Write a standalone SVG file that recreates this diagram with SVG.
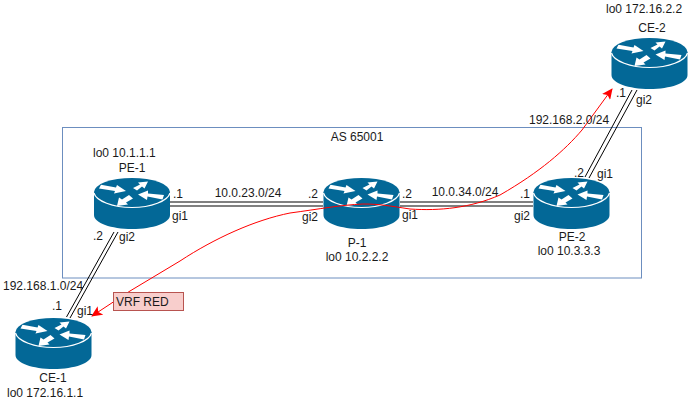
<svg xmlns="http://www.w3.org/2000/svg" xmlns:xlink="http://www.w3.org/1999/xlink" width="695" height="404" viewBox="0 0 695 404">
<style>
text{font-family:"Liberation Sans",Arial,sans-serif;font-size:12px;fill:#1a1a1a}
.m{text-anchor:middle}
.l{fill:none;stroke:#000;stroke-width:1}
.h{fill:none;stroke:#808080;stroke-width:2}
.r{fill:none;stroke:#f00;stroke-width:1}
</style>
<defs>
<marker id="ah" markerWidth="12" markerHeight="10" refX="10" refY="5" orient="auto-start-reverse" markerUnits="userSpaceOnUse"><path d="M0 0L11 5L0 10L2.500 5Z" fill="#f00"/></marker>
<g id="router">
<path d="M0 14V37C0 45 17 51 38 51S76 45 76 37V14Z" fill="#036897"/>
<ellipse cx="38" cy="14" rx="38" ry="14" fill="#036897"/>
<path d="M0 15C2 23 19 29.500 38 29.500S74 23 76 15" fill="none" stroke="#fff" stroke-width="1.200"/>
<path d="M7 6.700L22 9.500L23 7L32 13L20 15.500L21 13L5 10.500Z" fill="#fff"/>
<path d="M39 10L46 6.500L44 4.500L54 3.500L50.500 10.500L48 8.500L43 12.500Z" fill="#fff"/>
<path d="M44 16.500L54 12.500L54 15.500L70 17L68.500 21.500L53.500 18.500L53 22Z" fill="#fff"/>
<path d="M23 28L25 19.500L28 21.500L35 17L39 20.500L32 24.500L34 26.500Z" fill="#fff"/>
</g>
</defs>
<rect width="695" height="404" fill="#fff"/>
<g id="as-65001"><rect x="62.500" y="127.500" width="579" height="150.500" fill="none" stroke="#6c8ebf"/><text class="m" x="357" y="141">AS 65001</text></g>
<g id="connectors">
<path class="h" d="M170 202H323M170 206H323"/>
<path class="h" d="M400 202H533M400 206H533"/>
<path class="l" d="M114 232L66.500 317M118 232L70 318"/>
<path class="l" d="M585 177L632 90M589 178L637 90"/>
</g>
<g id="PE-1"><use href="#router" x="94" y="178"/><text x="93" y="157">lo0 10.1.1.1</text><text class="m" x="132" y="172">PE-1</text></g>
<g id="P-1"><use href="#router" x="323.500" y="178"/><text class="m" x="357" y="247">P-1</text><text class="m" x="357" y="261">lo0 10.2.2.2</text></g>
<g id="PE-2"><use href="#router" x="533.500" y="178"/><text class="m" x="572" y="241">PE-2</text><text class="m" x="569" y="255">lo0 10.3.3.3</text></g>
<g id="CE-1"><use href="#router" x="15.500" y="318"/><text class="m" x="53" y="382">CE-1</text><text x="7" y="397">lo0 172.16.1.1</text></g>
<g id="CE-2"><use href="#router" x="611.500" y="38"/><text x="606" y="13">lo0 172.16.2.2</text><text class="m" x="652" y="32">CE-2</text></g>
<g id="vrf-path">
<path class="r" marker-start="url(#ah)" marker-end="url(#ah)" d="M612 89L582 130C565 150 540 172 500 195C470 208 440 211 410 209C390 206 380 204 363 204C340 205 320 209 290 213C255 220 215 238 180 261L130 291L92 316"/>
</g>
<g id="vrf-red"><rect x="113.500" y="292.500" width="70" height="18" fill="#f8cecc" stroke="#b85450"/><text x="116" y="306">VRF RED</text></g>
<g id="labels">
<text x="173" y="198">.1</text><text class="m" x="248" y="197">10.0.23.0/24</text><text x="172" y="220">gi1</text>
<text x="93" y="240">.2</text><text x="119" y="241">gi2</text>
<text x="3" y="290">192.168.1.0/24</text><text x="52" y="310">.1</text><text x="77" y="315">gi1</text>
<text x="308" y="198">.2</text><text x="302" y="221">gi2</text><text x="402" y="198">.2</text><text x="402" y="219">gi1</text>
<text class="m" x="465" y="196">10.0.34.0/24</text><text x="520" y="198">.1</text><text x="514" y="220">gi2</text>
<text x="574" y="177">.2</text><text x="597" y="178">gi1</text>
<text x="529" y="124">192.168.2.0/24</text><text x="616" y="97">.1</text><text x="636" y="104">gi2</text>
</g>
</svg>
